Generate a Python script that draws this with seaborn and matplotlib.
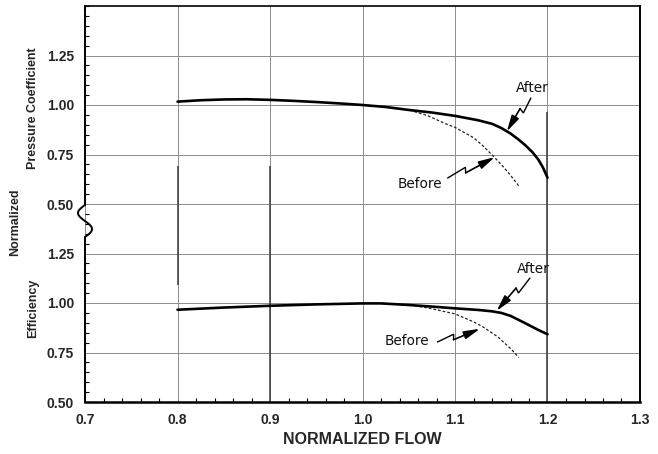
import numpy as np
import pandas as pd
import matplotlib
matplotlib.use("Agg")
import matplotlib.pyplot as plt
import seaborn as sns
from matplotlib.ticker import MultipleLocator

# ---------------- data ----------------
# Pressure coefficient (upper panel)
flow_pc_after = [0.80, 0.825, 0.85, 0.875, 0.90, 0.925, 0.95, 0.975, 1.00, 1.025,
                 1.05, 1.075, 1.10, 1.125, 1.14, 1.15, 1.16, 1.168, 1.176, 1.184,
                 1.19, 1.195, 1.20]
pc_after = [1.017, 1.024, 1.028, 1.029, 1.026, 1.021, 1.015, 1.008, 1.000, 0.990,
            0.975, 0.962, 0.945, 0.923, 0.905, 0.884, 0.856, 0.828, 0.797, 0.760,
            0.725, 0.685, 0.633]
flow_pc_before = [1.00, 1.025, 1.05, 1.07, 1.09, 1.10, 1.12, 1.13, 1.14, 1.15, 1.16, 1.17]
pc_before = [1.000, 0.990, 0.975, 0.947, 0.905, 0.887, 0.835, 0.795, 0.748, 0.700, 0.645, 0.585]

# Efficiency (lower panel)
flow_eff_after = [0.80, 0.85, 0.90, 0.95, 1.00, 1.02, 1.05, 1.075, 1.10, 1.125,
                  1.14, 1.15, 1.16, 1.17, 1.18, 1.19, 1.20]
eff_after = [0.966, 0.977, 0.986, 0.993, 0.998, 0.998, 0.990, 0.982, 0.973, 0.965,
             0.958, 0.950, 0.935, 0.912, 0.888, 0.864, 0.842]
flow_eff_before = [1.00, 1.02, 1.05, 1.07, 1.10, 1.12, 1.13, 1.146, 1.16, 1.169]
eff_before = [0.998, 0.998, 0.990, 0.976, 0.945, 0.905, 0.880, 0.830, 0.770, 0.725]

x_ticks = [0.7, 0.8, 0.9, 1.0, 1.1, 1.2, 1.3]
x_tick_labels = ["0.7", "0.8", "0.9", "1.0", "1.1", "1.2", "1.3"]
panel_y_ticks = [0.50, 0.75, 1.00, 1.25]
panel_y_labels = ["0.50", "0.75", "1.00", "1.25"]
PANEL_OFFSET = 1.0   # upper panel is stacked 1.0 unit above the lower one

# darker (re-inked) grid segments seen on the scan
dark_grid_x = [0.8, 0.9, 1.2]
dark_grid_bottom = [1.09, 0.5, 0.5]
dark_grid_top = [1.69, 1.69, 1.965]

# annotation text positions (flow, stacked y) and arrow tails / heads
ann_text = ["After", "Before", "After", "Before"]
ann_xy = [(1.184, 2.086), (1.062, 1.601), (1.185, 1.172), (1.048, 0.808)]
ann_tail = [(1.182, 2.035), (1.092, 1.631), (1.181, 1.126), (1.081, 0.803)]
ann_head = [(1.156, 1.866), (1.143, 1.737), (1.145, 0.960), (1.127, 0.870)]

# ---------------- figure ----------------
sns.set_theme(style="white")
plt.rcParams["font.family"] = ["Liberation Sans", "DejaVu Sans"]

W, H = 658, 454
fig = plt.figure(figsize=(W / 100, H / 100), dpi=100)
ax = fig.add_axes([85 / W, 1 - 402 / H, 555 / W, 396 / H])
ax.set_xlim(0.7, 1.3)
ax.set_ylim(0.5, 2.5)

df_pa = pd.DataFrame({"flow": flow_pc_after, "val": np.array(pc_after) + PANEL_OFFSET})
df_pb = pd.DataFrame({"flow": flow_pc_before, "val": np.array(pc_before) + PANEL_OFFSET})
df_ea = pd.DataFrame({"flow": flow_eff_after, "val": eff_after})
df_eb = pd.DataFrame({"flow": flow_eff_before, "val": eff_before})

dash = (0, (2.2, 1.6))
sns.lineplot(data=df_pb, x="flow", y="val", ax=ax, color="#222222", linewidth=0.9,
             linestyle=dash, estimator=None, sort=False, zorder=4)
sns.lineplot(data=df_eb, x="flow", y="val", ax=ax, color="#222222", linewidth=0.9,
             linestyle=dash, estimator=None, sort=False, zorder=4)
sns.lineplot(data=df_pa, x="flow", y="val", ax=ax, color="black", linewidth=1.9,
             estimator=None, sort=False, zorder=5)
sns.lineplot(data=df_ea, x="flow", y="val", ax=ax, color="black", linewidth=1.9,
             estimator=None, sort=False, zorder=5)

# grid
ax.grid(True, which="major", color="#8c8c8c", linewidth=0.7)
ax.vlines(dark_grid_x, dark_grid_bottom, dark_grid_top, color="#3a3a3a", linewidth=1.1, zorder=2)

# ticks
y_ticks = panel_y_ticks + [v + PANEL_OFFSET for v in panel_y_ticks]
y_labels = panel_y_labels + panel_y_labels
ax.set_yticks(y_ticks)
ax.set_yticklabels(y_labels)
ax.set_xticks(x_ticks)
ax.set_xticklabels(x_tick_labels)
ax.xaxis.set_minor_locator(MultipleLocator(0.02))
ax.yaxis.set_minor_locator(MultipleLocator(0.05))
ax.tick_params(which="both", direction="in", left=True, bottom=True, top=False, right=False,
               color="black")
ax.tick_params(which="major", length=0, pad=8, labelsize=10)
ax.tick_params(which="minor", length=3, width=0.8)
for lab in ax.get_xticklabels() + ax.get_yticklabels():
    lab.set_fontweight("bold")
ax.set_xlabel("")
ax.set_ylabel("")

# spines
for s in ["top", "right", "bottom"]:
    ax.spines[s].set_visible(True)
    ax.spines[s].set_color("black")
ax.spines["top"].set_linewidth(1.2)
ax.spines["right"].set_linewidth(1.4)
ax.spines["bottom"].set_linewidth(1.8)
ax.spines["left"].set_visible(False)

# left axis with break squiggle
ytr = ax.get_yaxis_transform()
brk_top, brk_bot = 1.495, 1.333
ax.plot([0, 0], [brk_top, 2.5], transform=ytr, color="black", lw=1.4, clip_on=False, zorder=6)
ax.plot([0, 0], [0.5, brk_bot], transform=ytr, color="black", lw=1.4, clip_on=False, zorder=6)
t = np.linspace(0, 1, 60)
ax.plot(-7 / 555 * np.sin(2 * np.pi * t), brk_top - t * (brk_top - brk_bot), transform=ytr,
        color="black", lw=1.4, clip_on=False, zorder=6)

# annotations with lightning arrows
def lightning(tail, head):
    T = ax.transData
    p0 = T.transform(tail)
    p1 = T.transform(head)
    v = p1 - p0
    L = np.hypot(*v)
    u = v / L
    n = np.array([-u[1], u[0]])
    a = p0 + 0.40 * v + 2.6 * n
    b = p0 + 0.36 * v - 2.6 * n
    inv = T.inverted()
    d = inv.transform(np.array([p0, a, b]))
    ax.plot(d[:, 0], d[:, 1], color="black", lw=1.0, solid_joinstyle="miter", zorder=6)
    ax.annotate("", xy=head, xytext=tuple(d[2]),
                arrowprops=dict(arrowstyle="-|>,head_length=0.8,head_width=0.2",
                                color="black", lw=1.2, shrinkA=0, shrinkB=0), zorder=6)

for txt, xy, tl, hd in zip(ann_text, ann_xy, ann_tail, ann_head):
    ax.text(xy[0], xy[1], txt, ha="center", va="center", fontsize=9.8,
            family=["DejaVu Sans"], color="#111111")
    lightning(tl, hd)

# axis titles
fig.text(362 / W, 1 - 440 / H, "NORMALIZED FLOW", ha="center", va="center",
         fontsize=11.5, fontweight="bold")
fig.text(33 / W, 1 - 108 / H, "Pressure Coefficient", rotation=90, ha="center", va="center",
         fontsize=9, fontweight="bold")
fig.text(33 / W, 1 - 308 / H, "Efficiency", rotation=90, ha="center", va="center",
         fontsize=9, fontweight="bold")
fig.text(15 / W, 1 - 222 / H, "Normalized", rotation=90, ha="center", va="center",
         fontsize=9, fontweight="bold")

fig.savefig("out.png", dpi=100, facecolor="white")
